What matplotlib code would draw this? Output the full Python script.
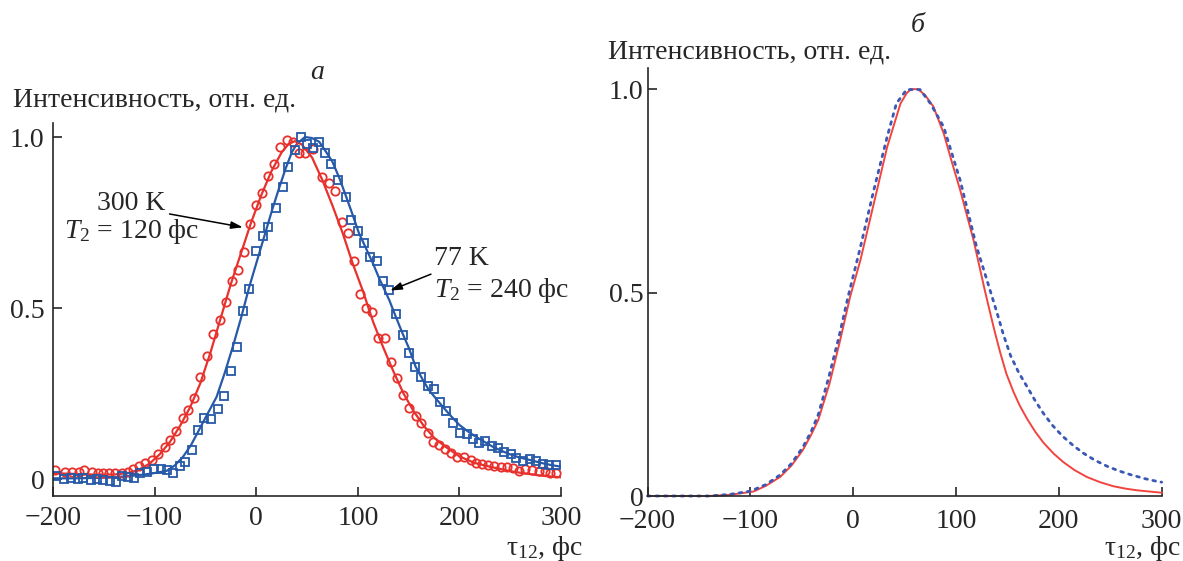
import matplotlib
matplotlib.use("Agg")
import matplotlib.pyplot as plt

plt.rcParams["font.family"] = ["Liberation Serif", "DejaVu Serif"]
plt.rcParams["mathtext.fontset"] = "custom"
plt.rcParams["mathtext.rm"] = "Liberation Serif"
plt.rcParams["mathtext.it"] = "Liberation Serif:italic"
plt.rcParams["axes.unicode_minus"] = True

# --- panel a: measured points (300 K circles, 77 K squares) and fits ---
red_x = [-198, -188, -181, -174, -169, -162, -156, -151, -145, -139,
         -132, -126, -121, -115, -109, -103, -97, -90, -85, -79,
         -72, -67, -61, -55, -48, -43, -36, -30, -24, -18,
         -12, -6, 0, 6, 12, 18, 23, 30, 36, 42,
         48, 56, 65, 72, 78, 84, 90, 96, 102, 108,
         114, 120, 127, 133, 139, 144, 150, 157, 162, 169,
         174, 180, 186, 192, 198, 205, 211, 216, 222, 228,
         234, 241, 247, 253, 259, 265, 271, 278, 284, 289, 295]
red_y = [0.026, 0.020, 0.021, 0.020, 0.026, 0.020, 0.018, 0.017, 0.017, 0.017,
         0.018, 0.021, 0.029, 0.039, 0.046, 0.056, 0.073, 0.094, 0.114, 0.140,
         0.177, 0.202, 0.238, 0.297, 0.360, 0.425, 0.465, 0.519, 0.579, 0.610,
         0.663, 0.745, 0.801, 0.835, 0.887, 0.922, 0.972, 0.991, 0.984, 0.952,
         0.953, 0.964, 0.884, 0.866, 0.843, 0.752, 0.718, 0.637, 0.541, 0.499,
         0.489, 0.411, 0.413, 0.343, 0.294, 0.246, 0.207, 0.184, 0.165, 0.134,
         0.109, 0.099, 0.088, 0.075, 0.065, 0.065, 0.056, 0.046, 0.044, 0.041,
         0.038, 0.034, 0.036, 0.033, 0.024, 0.028, 0.026, 0.024, 0.024, 0.018, 0.018]

blue_x = [-197, -189, -182, -175, -170, -163, -157, -151, -144, -138,
          -132, -126, -120, -114, -107, -101, -94, -88, -82, -75,
          -70, -63, -57, -51, -44, -38, -32, -25, -19, -13,
          -7, 0, 7, 12, 19, 26, 31, 38, 44, 50,
          56, 62, 68, 74, 81, 88, 93, 100, 106, 112,
          119, 125, 131, 138, 144, 150, 156, 162, 169, 175,
          181, 187, 194, 201, 207, 213, 219, 225, 232, 238,
          244, 251, 256, 263, 269, 275, 282, 288, 295]
blue_y = [0.010, -0.001, 0.002, -0.001, 0.002, -0.003, 0.000, -0.003, -0.006, -0.008,
          0.009, 0.007, 0.004, 0.017, 0.021, 0.029, 0.029, 0.026, 0.018, 0.038,
          0.049, 0.085, 0.143, 0.177, 0.175, 0.204, 0.244, 0.316, 0.387, 0.491,
          0.555, 0.667, 0.711, 0.738, 0.793, 0.853, 0.911, 0.962, 1.001, 0.979,
          0.969, 0.984, 0.953, 0.921, 0.874, 0.825, 0.757, 0.725, 0.689, 0.650,
          0.638, 0.579, 0.553, 0.483, 0.421, 0.369, 0.328, 0.297, 0.273, 0.262,
          0.226, 0.199, 0.165, 0.134, 0.131, 0.116, 0.106, 0.112, 0.097, 0.092,
          0.080, 0.073, 0.060, 0.054, 0.058, 0.054, 0.044, 0.041, 0.041]

fit300_x = [-200, -180, -160, -140, -125, -115, -105, -95, -85, -75, -65, -55, -45,
            -35, -25, -15, -5, 5, 15, 25, 32, 38, 45, 55, 65, 75, 85, 95, 105,
            115, 125, 135, 145, 155, 165, 175, 185, 200, 215, 230, 250, 265, 280, 300]
fit300_y = [0.017, 0.015, 0.013, 0.013, 0.018, 0.028, 0.045, 0.072, 0.108, 0.155,
            0.210, 0.280, 0.370, 0.470, 0.570, 0.660, 0.750, 0.830, 0.900, 0.955,
            0.980, 0.988, 0.978, 0.940, 0.875, 0.800, 0.720, 0.630, 0.550, 0.460,
            0.385, 0.315, 0.250, 0.198, 0.155, 0.121, 0.097, 0.066, 0.047, 0.036,
            0.023, 0.016, 0.010, 0.005]

fit77_x = [-200, -180, -160, -140, -120, -105, -95, -88, -80, -72, -64, -56, -48,
           -39, -31, -23, -15, -7, 0, 8, 16, 23, 29, 35, 40, 48, 55, 62, 68, 75,
           82, 88, 95, 101, 108, 115, 121, 131, 138, 144, 150, 157, 164, 170, 177,
           184, 192, 200, 208, 216, 225, 233, 241, 249, 257, 266, 274, 282, 290, 300]
fit77_y = [0.002, 0.002, 0.003, 0.005, 0.010, 0.015, 0.020, 0.024, 0.040, 0.065,
           0.100, 0.145, 0.190, 0.240, 0.310, 0.387, 0.470, 0.560, 0.630, 0.710,
           0.790, 0.855, 0.908, 0.955, 0.980, 1.000, 0.997, 0.986, 0.960, 0.928,
           0.879, 0.830, 0.772, 0.720, 0.675, 0.630, 0.587, 0.523, 0.470, 0.426,
           0.385, 0.328, 0.290, 0.260, 0.235, 0.210, 0.183, 0.158, 0.140, 0.124,
           0.108, 0.094, 0.083, 0.073, 0.065, 0.058, 0.052, 0.046, 0.041, 0.036]

# --- panel б: computed curves ---
calc300_x = [-200, -140, -120, -97, -85, -71, -60, -49, -41, -34, -23, -13, -3, 7,
             20, 33, 46, 52, 56, 63, 70, 78, 88, 96, 104, 117, 128, 133, 138, 143,
             149, 156, 162, 169, 177, 185, 195, 204, 215, 227, 240, 253, 265, 276,
             288, 300]
calc300_y = [0.0, 0.0, 0.003, 0.011, 0.025, 0.047, 0.075, 0.113, 0.150, 0.187,
             0.277, 0.380, 0.490, 0.580, 0.719, 0.858, 0.965, 0.990, 1.0, 1.0,
             0.985, 0.957, 0.891, 0.820, 0.752, 0.629, 0.505, 0.452, 0.400, 0.352,
             0.300, 0.255, 0.222, 0.190, 0.158, 0.131, 0.104, 0.084, 0.064, 0.047,
             0.034, 0.024, 0.018, 0.014, 0.011, 0.008]

calc77_x = [-200, -140, -120, -100, -85, -71, -60, -49, -41, -34, -24, -14, -5, 7,
            20, 33, 42, 52, 65, 75, 88, 104, 120, 130, 140, 146, 153, 161, 169,
            177, 185, 194, 204, 214, 224, 235, 247, 258, 269, 283, 297, 300]
calc77_y = [0.0, 0.0, 0.004, 0.012, 0.028, 0.052, 0.080, 0.120, 0.158, 0.200,
            0.290, 0.390, 0.490, 0.612, 0.752, 0.883, 0.965, 0.999, 0.999, 0.965,
            0.907, 0.776, 0.612, 0.531, 0.449, 0.397, 0.345, 0.303, 0.269, 0.234,
            0.203, 0.173, 0.146, 0.124, 0.105, 0.088, 0.073, 0.062, 0.053, 0.043,
            0.035, 0.034]

x_ticks = [-200, -100, 0, 100, 200, 300]
y_ticks = [0, 0.5, 1.0]
y_ticklabels = ["0", "0.5", "1.0"]

RED = "#e8302c"
BLUE = "#2659a8"
RED_B = "#f2443f"
BLUE_B = "#3a58b4"
INK = "#262626"
FS = 20

W, H = 1183, 561
fig = plt.figure(figsize=(W / 100, H / 100), dpi=100)


def frame(ax):
    for s in ("top", "right"):
        ax.spines[s].set_visible(False)
    for s in ("left", "bottom"):
        ax.spines[s].set_color(INK)
        ax.spines[s].set_linewidth(1.2)
    ax.set_xlim(-200, 300)
    ax.set_xticks(x_ticks)
    ax.set_yticks(y_ticks)
    ax.set_yticklabels(y_ticklabels)
    ax.tick_params(direction="in", length=6.5, width=1.2, color=INK,
                   labelsize=FS, labelcolor=INK)
    ax.tick_params(axis="x", pad=7)
    ax.tick_params(axis="y", pad=6)


# panel a
ax1 = fig.add_axes([53 / W, 1 - 496 / H, 508 / W, (496 - 123) / H])
frame(ax1)
ax1.set_ylim(-0.0497, 1.041)
ax1.plot(fit300_x, fit300_y, color=RED, lw=1.6)
ax1.plot(fit77_x, fit77_y, color=BLUE, lw=1.6)
ax1.plot(red_x, red_y, "o", ms=6, mfc="none", mec=RED, mew=1.3)
ax1.plot(blue_x, blue_y, "s", ms=5.2, mfc="none", mec=BLUE, mew=1.3)

arrow = dict(arrowstyle="-|>,head_length=0.7,head_width=0.22", color="black",
             lw=1.1, shrinkA=0, shrinkB=0)
ax1.annotate("", xy=(-13.1, 0.736), xytext=(-85.3, 0.775), arrowprops=arrow)
ax1.annotate("", xy=(131.8, 0.551), xytext=(172, 0.599), arrowprops=arrow)
ax1.text(-123, 0.787, "300 K", fontsize=FS, ha="center", va="baseline", color=INK)
ax1.text(-123, 0.705, "$T_2$ = 120 фс", fontsize=FS, ha="center", va="baseline", color=INK)
ax1.text(175, 0.626, "77 K", fontsize=FS, ha="left", va="baseline", color=INK)
ax1.text(175, 0.533, "$T_2$ = 240 фс", fontsize=FS, ha="left", va="baseline", color=INK)

# panel б
ax2 = fig.add_axes([647.6 / W, 1 - 496 / H, 514.1 / W, (496 - 68) / H])
frame(ax2)
ax2.set_ylim(0, 1.052)
ax2.tick_params(axis="y", pad=3)
ax2.tick_params(axis="x", pad=9.5)
ax2.plot(calc300_x, calc300_y, color=RED_B, lw=1.4, clip_on=False)
ax2.plot(calc77_x, calc77_y, color=BLUE_B, lw=2.0, dashes=(1.0, 2.0),
         dash_capstyle="round", clip_on=False)

# axis titles and panel letters
fig.text(13 / W, 1 - 100 / H, "Интенсивность, отн. ед.", fontsize=FS,
         ha="left", va="center", color=INK)
fig.text(608 / W, 1 - 52 / H, "Интенсивность, отн. ед.", fontsize=FS,
         ha="left", va="center", color=INK)
fig.text(317 / W, 1 - 72 / H, "а", fontsize=FS, fontstyle="italic",
         ha="center", va="center", color=INK)
fig.text(918 / W, 1 - 25 / H, "б", fontsize=FS, fontstyle="italic",
         ha="center", va="center", color=INK)
fig.text(583 / W, 6 / H, r"$\mathrm{τ}_{12}$, фс", fontsize=FS,
         ha="right", va="baseline", color=INK)
fig.text(1181 / W, 6 / H, r"$\mathrm{τ}_{12}$, фс", fontsize=FS,
         ha="right", va="baseline", color=INK)

fig.savefig("out.png", dpi=100)
